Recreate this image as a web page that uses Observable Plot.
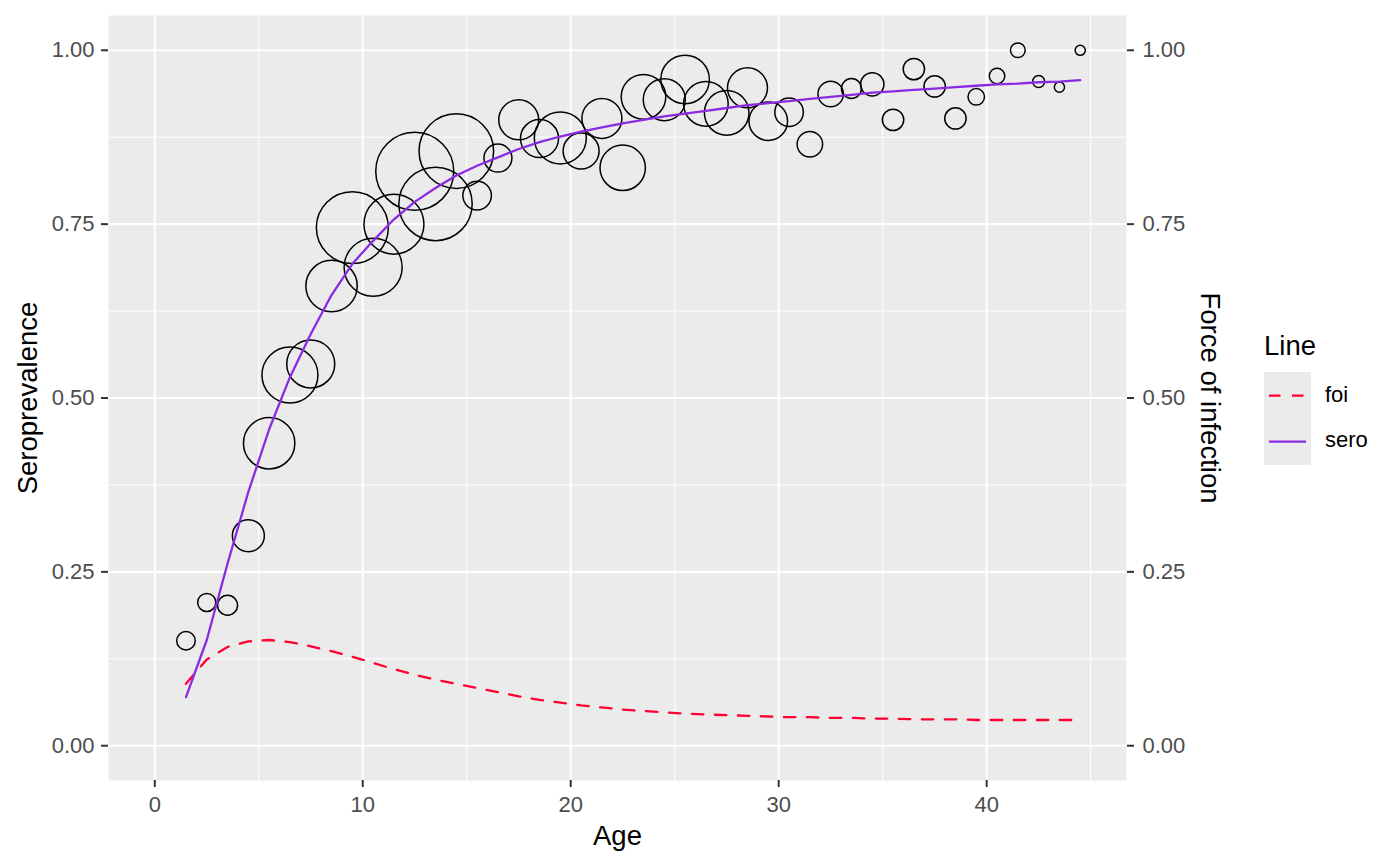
<!DOCTYPE html>
<html>
<head>
<meta charset="utf-8">
<script src="https://cdn.jsdelivr.net/npm/d3@7"></script>
<script src="https://cdn.jsdelivr.net/npm/@observablehq/plot@0.6"></script>
<style>
  body { margin: 0; background: #fff; font-family: "Liberation Sans", Arial, sans-serif; }
  #wrap { position: relative; width: 1400px; height: 865px; }
  #chart { position: absolute; left: 0; top: 0; }
  .lg { position: absolute; line-height: 1; white-space: nowrap; color: #000; }
  #lgTitle { left: 1264px; top: 331.7px; font-size: 27.5px; }
  #lgKeys { left: 1264px; top: 372px; width: 47px; height: 93px; background: #EBEBEB; }
  #lgFoi { left: 1325px; top: 384.4px; font-size: 22px; }
  #lgSero { left: 1325px; top: 429.4px; font-size: 22px; }
</style>
</head>
<body>
<div id="wrap">
  <div id="chart"></div>
  <div class="lg" id="lgTitle">Line</div>
  <div class="lg" id="lgKeys">
    <svg width="47" height="93">
      <line x1="5" x2="42" y1="23.7" y2="23.7" stroke="#FF0033" stroke-width="2.3" stroke-dasharray="11.5,11.5"></line>
      <line x1="5" x2="42" y1="69.7" y2="69.7" stroke="#8A2BE2" stroke-width="2.3"></line>
    </svg>
  </div>
  <div class="lg" id="lgFoi">foi</div>
  <div class="lg" id="lgSero">sero</div>
</div>
<script>
// Ages (bin mid-points)
const ages = [1.5, 2.5, 3.5, 4.5, 5.5, 6.5, 7.5, 8.5, 9.5, 10.5,
  11.5, 12.5, 13.5, 14.5, 15.5, 16.5, 17.5, 18.5, 19.5, 20.5,
  21.5, 22.5, 23.5, 24.5, 25.5, 26.5, 27.5, 28.5, 29.5, 30.5,
  31.5, 32.5, 33.5, 34.5, 35.5, 36.5, 37.5, 38.5, 39.5, 40.5,
  41.5, 42.5, 43.5, 44.5];

// Observed seroprevalence
const seroObs = [0.151, 0.206, 0.202, 0.302, 0.435, 0.533, 0.549, 0.661, 0.745, 0.688,
  0.750, 0.826, 0.779, 0.855, 0.791, 0.845, 0.900, 0.873, 0.874, 0.855,
  0.902, 0.831, 0.933, 0.929, 0.958, 0.923, 0.910, 0.946, 0.898, 0.911,
  0.865, 0.937, 0.945, 0.951, 0.900, 0.973, 0.948, 0.902, 0.933, 0.963,
  1.000, 0.955, 0.947, 1.000];

// Estimated sample size per age (bubble size)
const sampleSize = [43, 41, 50, 128, 330, 392, 288, 330, 648, 421,
  450, 761, 673, 696, 102, 98, 200, 181, 338, 162,
  200, 258, 249, 221, 295, 249, 249, 200, 186, 102,
  81, 81, 50, 68, 57, 57, 57, 57, 34, 30,
  27, 18, 13, 13];

// Fitted seroprevalence curve
const seroFit = [0.070, 0.152, 0.262, 0.365, 0.455, 0.530, 0.592, 0.648, 0.693, 0.726,
  0.757, 0.782, 0.802, 0.820, 0.834, 0.846, 0.858, 0.868, 0.876, 0.883,
  0.889, 0.895, 0.900, 0.905, 0.909, 0.913, 0.917, 0.921, 0.924, 0.927,
  0.930, 0.933, 0.936, 0.939, 0.941, 0.943, 0.945, 0.947, 0.949, 0.951,
  0.952, 0.954, 0.955, 0.957];

// Fitted force of infection curve
const foiFit = [0.089, 0.124, 0.142, 0.150, 0.152, 0.149, 0.143, 0.136, 0.128, 0.119,
  0.110, 0.102, 0.095, 0.089, 0.083, 0.077, 0.071, 0.066, 0.062, 0.058,
  0.055, 0.052, 0.050, 0.048, 0.046, 0.045, 0.044, 0.043, 0.042, 0.041,
  0.041, 0.040, 0.040, 0.039, 0.039, 0.038, 0.038, 0.038, 0.037, 0.037,
  0.037, 0.037, 0.037, 0.037];

// Tick values
const xMajor = [0, 10, 20, 30, 40];
const xMinor = [5, 15, 25, 35, 45];
const yMajor = [0, 0.25, 0.5, 0.75, 1];
const yMinor = [0.125, 0.375, 0.625, 0.875];

const points = ages.map((a, i) => ({age: a, sero: seroObs[i], n: sampleSize[i]}));
const curves = ages.map((a, i) => ({age: a, sero: seroFit[i], foi: foiFit[i]}));

const fmt = d3.format(".2f");

const chart = Plot.plot({
  width: 1400,
  height: 865,
  marginLeft: 108,
  marginRight: 274,
  marginTop: 15,
  marginBottom: 85,
  style: {fontFamily: '"Liberation Sans", Arial, sans-serif', background: "white", overflow: "visible"},
  x: {domain: [-2.225, 46.725]},
  y: {domain: [-0.05, 1.05]},
  r: {type: "sqrt", domain: [0, 761], range: [0, 39]},
  marks: [
    Plot.frame({fill: "#EBEBEB", stroke: "none"}),
    Plot.ruleX(xMinor, {stroke: "white", strokeWidth: 1.1}),
    Plot.ruleY(yMinor, {stroke: "white", strokeWidth: 1.1}),
    Plot.ruleX(xMajor, {stroke: "white", strokeWidth: 2.1}),
    Plot.ruleY(yMajor, {stroke: "white", strokeWidth: 2.1}),
    Plot.dot(points, {x: "age", y: "sero", r: "n", stroke: "black", fill: "none", strokeWidth: 1.5}),
    Plot.line(curves, {x: "age", y: "foi", stroke: "#FF0033", strokeWidth: 2.3, strokeDasharray: "11.5,11.5"}),
    Plot.line(curves, {x: "age", y: "sero", stroke: "#8A2BE2", strokeWidth: 2.3}),
    // x axis
    Plot.axisX({ticks: xMajor, tickSize: 7, tickPadding: 9, fontSize: 22, stroke: "#333333", fill: "#4D4D4D", strokeWidth: 2, label: null}),
    Plot.axisX({ticks: [], tickSize: 0, label: "Age", labelAnchor: "center", labelOffset: 64, labelArrow: false, fontSize: 27.5, fill: "black"}),
    // left y axis
    Plot.axisY({anchor: "left", ticks: yMajor, tickFormat: fmt, tickSize: 7, tickPadding: 7, fontSize: 22, stroke: "#333333", fill: "#4D4D4D", strokeWidth: 2, label: null}),
    Plot.axisY({anchor: "left", ticks: [], tickSize: 0, label: "Seroprevalence", labelAnchor: "center", labelOffset: 91, labelArrow: false, fontSize: 27.5, fill: "black"}),
    // right y axis (secondary, same scale)
    Plot.axisY({anchor: "right", ticks: yMajor, tickFormat: fmt, tickSize: 7, tickPadding: 9, fontSize: 22, stroke: "#333333", fill: "#4D4D4D", strokeWidth: 2, label: null}),
    Plot.text(["Force of infection"], {frameAnchor: "right", text: d => d, rotate: 90, dx: 74, lineAnchor: "bottom", textAnchor: "middle", fontSize: 27.5, fill: "black"})
  ]
});
document.getElementById("chart").appendChild(chart);
</script>
</body>
</html>
